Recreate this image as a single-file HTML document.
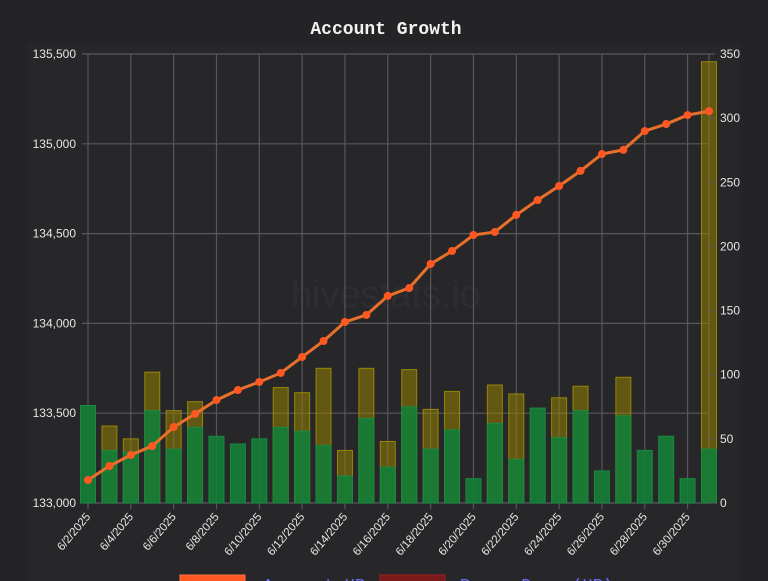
<!DOCTYPE html>
<html><head><meta charset="utf-8"><style>
html,body{margin:0;padding:0;background:#242427;}
svg{display:block;font-family:"Liberation Sans",sans-serif;}
</style></head><body>
<svg id="chart" width="768" height="581" viewBox="0 0 768 581" xmlns="http://www.w3.org/2000/svg">
<rect x="0" y="0" width="768" height="581" fill="#242427"/>
<rect x="28" y="43" width="712" height="538" fill="#27272a"/>
<text x="386" y="34" text-anchor="middle" fill="#f2f2f2" font-family="'Liberation Mono',monospace" font-weight="bold" font-size="18">Account Growth</text>
<text x="386" y="307" text-anchor="middle" fill="#2e2e32" font-size="38">hivestats.io</text>
<g id="grid"></g>
<g id="bars"></g>
<g id="line"></g>
<g id="axes"></g>
<g>
<rect x="180" y="575" width="65" height="12" fill="#ff5722" stroke="#ff7043"/>
<text x="263" y="590" fill="#6b6bff" font-family="'Liberation Mono',monospace" font-size="17">Account HP</text>
<rect x="380" y="575" width="65" height="12" fill="#7a1a1a" stroke="#a02020"/>
<text x="460" y="590" fill="#6b6bff" font-family="'Liberation Mono',monospace" font-size="17">Power Down (HP)</text>
</g>
</svg>
<script>
const dates = ["6/2/2025","6/3/2025","6/4/2025","6/5/2025","6/6/2025","6/7/2025","6/8/2025","6/9/2025","6/10/2025","6/11/2025","6/12/2025","6/13/2025","6/14/2025","6/15/2025","6/16/2025","6/17/2025","6/18/2025","6/19/2025","6/20/2025","6/21/2025","6/22/2025","6/23/2025","6/24/2025","6/25/2025","6/26/2025","6/27/2025","6/28/2025","6/29/2025","6/30/2025","7/1/2025"];
const accountHP = [133128,133206,133267,133317,133423,133496,133573,133629,133674,133724,133813,133902,134008,134047,134153,134197,134331,134403,134492,134509,134604,134687,134765,134849,134943,134966,135071,135110,135160,135182];
const greenBars = [76,41,40,72,42,59,52,46,50,59,56,45,21,66,28,75,42,57,19,62,34,74,51,72,25,68,41,52,19,42];
const oliveBars = [0,60,50,102,72,79,0,0,0,90,86,105,41,105,48,104,73,87,0,92,85,0,82,91,0,98,0,0,0,344];
const leftTicks = [133000,133500,134000,134500,135000,135500];
const rightTicks = [0,50,100,150,200,250,300,350];

const NS="http://www.w3.org/2000/svg";
const X0=88,X1=709,Y0=503,Y1=54;
function xPos(i){return X0+(X1-X0)*i/(dates.length-1);}
function yLeft(v){return Y0-(v-133000)/(135500-133000)*(Y0-Y1);}
function yRight(v){return Y0-v/350*(Y0-Y1);}
function mk(tag,attrs,parent){const e=document.createElementNS(NS,tag);for(const k in attrs)e.setAttribute(k,attrs[k]);parent.appendChild(e);return e;}
const grid=document.getElementById('grid'),bars=document.getElementById('bars'),line=document.getElementById('line'),axes=document.getElementById('axes');

leftTicks.forEach(t=>{const y=yLeft(t);
 const g=mk('line',{x1:82,x2:X1,y1:y,y2:y,stroke:'#58585c','stroke-width':1.2},grid);
 
 
 const tx=mk('text',{x:76,y:y+4,'text-anchor':'end',fill:'#e6e6e6','font-size':12},axes);
 tx.textContent=t.toLocaleString('en-US');
 
 
});
rightTicks.forEach(t=>{const y=yRight(t);
 const tk=mk('line',{x1:X1,x2:X1+6,y1:y,y2:y,stroke:'#58585c','stroke-width':1.2},axes);
 
 
 const tx=mk('text',{x:720,y:y+4,fill:'#e6e6e6','font-size':12},axes);
 tx.textContent=t;
 
 
});
dates.forEach((d,i)=>{if(i%2)return;const x=xPos(i);
 const g=mk('line',{x1:x,x2:x,y1:Y1,y2:Y0+6,stroke:'#58585c','stroke-width':1.2},grid);
 
 
 const tx=mk('text',{x:x+3,y:Y0+14,'text-anchor':'end',fill:'#e6e6e6','font-size':11.5,transform:`rotate(-50 ${x+3} ${Y0+14})`},axes);
 tx.textContent=d;
 
 
});
mk('line',{x1:X1,x2:X1,y1:Y1,y2:Y0,stroke:'#58585c','stroke-width':1.2},grid);

const bw=15;
dates.forEach((d,i)=>{const x=xPos(i);
 if(oliveBars[i]>0){const y=yRight(oliveBars[i]);
  const r=mk('rect',{x:x-bw/2,y:y,width:bw,height:Y0-y,fill:'rgba(150,130,0,0.55)',stroke:'rgba(170,150,0,0.8)','stroke-width':1},bars);
  
  
 }
 const y=yRight(greenBars[i]);
 const r=mk('rect',{x:x-bw/2,y:y,width:bw,height:Y0-y,fill:'rgba(20,125,55,0.92)',stroke:'#1a8a40','stroke-width':1},bars);
 
 
});

const pts=accountHP.map((v,i)=>xPos(i)+','+yLeft(v)).join(' ');
const pl=mk('polyline',{points:pts,fill:'none',stroke:'#e8702a','stroke-width':3},line);


accountHP.forEach((v,i)=>{
 const c=mk('circle',{cx:xPos(i),cy:yLeft(v),r:4,fill:'#ff5722'},line);
 
 
});
</script>
</body></html>
